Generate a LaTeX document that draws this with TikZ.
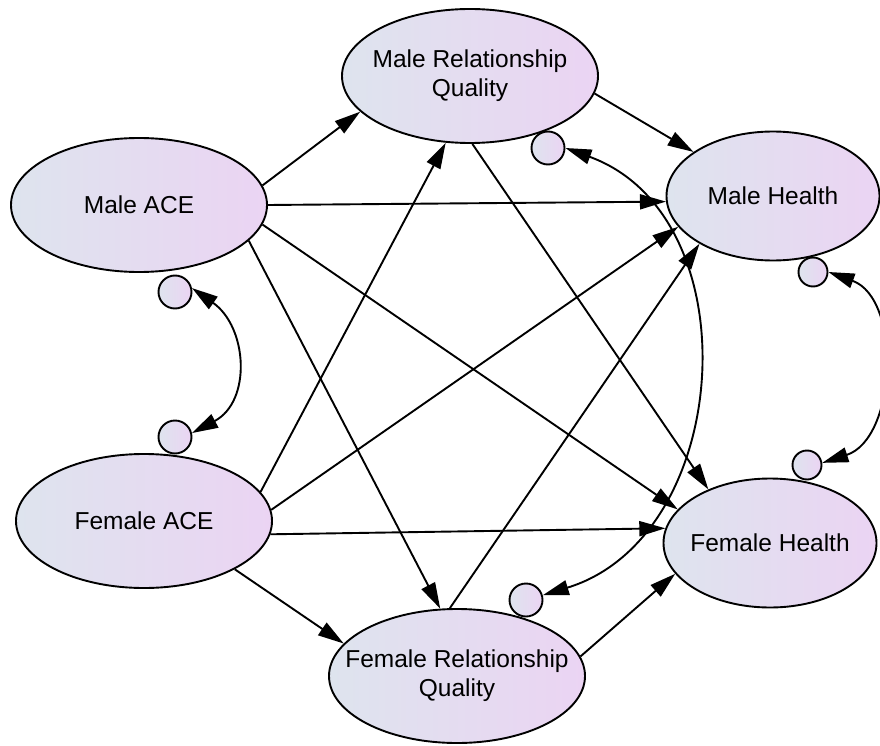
\documentclass[tikz,border=0pt]{standalone}
\usepackage{fontspec}
\setmainfont{Liberation Sans}
\usetikzlibrary{shapes.geometric,arrows.meta}
\definecolor{LatLeft}{RGB}{222,228,238}
\definecolor{LatRight}{RGB}{235,212,243}

\begin{document}
\begin{tikzpicture}[x=1pt,y=1pt]
\useasboundingbox (0,0) rectangle (880,-746);

\tikzset{LatentStyle/.style = {
 shape = ellipse,
 draw = black,
 line width = 1.9pt,
 left color = LatLeft,
 right color = LatRight,
 text = black,
 align = center,
 font = \fontsize{24.5}{29}\selectfont,
 inner xsep = -40pt,
 inner ysep = 0pt,
 minimum width = 256pt,
 minimum height = 134pt},
 HealthSize/.style = {minimum width = 213pt, minimum height = 129pt} }

\node[LatentStyle] (MACE) at (139,-205) {Male ACE};
\node[LatentStyle] (MRQ) at (470,-76) {Male Relationship\\Quality};
\node[LatentStyle, HealthSize] (MH) at (773,-196) {Male Health};
\node[LatentStyle] (FACE) at (144,-521) {Female ACE};
\node[LatentStyle] (FRQ) at (457,-676) {Female Relationship\\Quality};
\node[LatentStyle, HealthSize] (FH) at (770,-543) {Female Health};


\tikzset{ErrorStyle/.style = {
 shape = circle,
 draw = black,
 line width = 1.9pt,
 left color = LatLeft,
 right color = LatRight,
 inner sep = 0pt,
 minimum size = 33pt},
 SmallError/.style = {minimum size = 29pt} }

\node[ErrorStyle] (E_MACE) at (175,-292) {};
\node[ErrorStyle] (E_FACE) at (175,-437) {};
\node[ErrorStyle] (E_MRQ) at (548,-148) {};
\node[ErrorStyle, SmallError] (E_MH) at (813,-272) {};
\node[ErrorStyle] (E_FRQ) at (526,-600) {};
\node[ErrorStyle, SmallError] (E_FH) at (807,-465) {};


\tikzset{PathStyle/.style = {line width=1.9pt, -{Triangle[length=26pt,width=15pt]}},
 CovStyle/.style = {line width=1.9pt, {Triangle[length=26pt,width=15pt]}-{Triangle[length=26pt,width=15pt]}} }

\draw[PathStyle] (MACE.9) -- (MRQ.198);
\draw[PathStyle] (MACE.0) -- (MH.183);
\draw[PathStyle] (MACE.-9) -- (FH.160);
\draw[PathStyle] (MACE.-18) -- (FRQ.104);
\draw[PathStyle] (FACE.14) -- (MRQ.250);
\draw[PathStyle] (FACE.5) -- (MH.198);
\draw[PathStyle] (FACE.-6) -- (FH.172);
\draw[PathStyle] (FACE.-28) -- (FRQ.164);
\draw[PathStyle] (MRQ.-8) -- (MH.151);
\draw[PathStyle] (MRQ.-88) -- (FH.139);
\draw[PathStyle] (FRQ.96) -- (MH.213);
\draw[PathStyle] (FRQ.9) -- (FH.198);

\draw[CovStyle] (E_MACE.13) to[out=-35, in=28, looseness=1.2] (E_FACE.13);
\draw[CovStyle] (E_MH.0) to[out=-20, in=18, looseness=1.05] (E_FH.8);
\draw[CovStyle] (E_MRQ.0) to[out=-20, in=17, looseness=1.14] (E_FRQ.16);

\end{tikzpicture}
\end{document}
